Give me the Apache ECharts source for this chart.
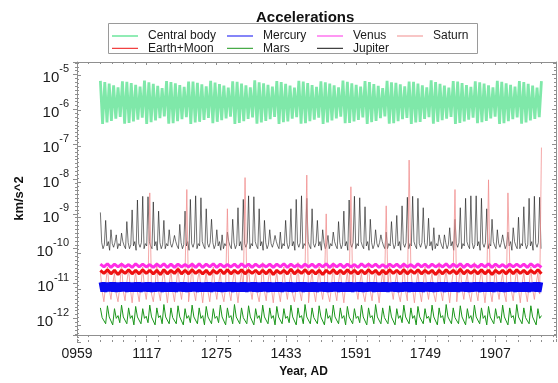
<!DOCTYPE html>
<html>
<head>
<meta charset="utf-8">
<script src="https://cdn.jsdelivr.net/npm/echarts@6/dist/echarts.min.js"></script>
<style>
  html, body { margin: 0; padding: 0; background: #fff; }
  #chart { width: 558px; height: 383px; }
</style>
</head>
<body>
<div id="chart"></div>
<script>
// Accelerations (km/s^2), sampled from year 1012 on a fixed step per series
const startYear = 1012
const xTicks = [959, 1117, 1275, 1433, 1591, 1749, 1907]

// step 5 years
const centralBody = [
  6.6e-6,3.8e-7,6.1e-6,4.2e-7,5.5e-6,4.7e-7,4.9e-6,5.4e-7,4.3e-6,6.1e-7,
  6.4e-6,3.9e-7,6.2e-6,4.1e-7,5.7e-6,4.5e-7,5.1e-6,5.1e-7,4.5e-6,5.8e-7,
  6.7e-6,3.8e-7,6.0e-6,4.3e-7,5.4e-6,4.8e-7,4.7e-6,5.6e-7,4.1e-6,6.3e-7,
  6.5e-6,3.9e-7,6.1e-6,4.0e-7,5.6e-6,4.6e-7,5.0e-6,5.2e-7,4.4e-6,6.0e-7,
  6.3e-6,3.8e-7,6.3e-6,4.2e-7,5.8e-6,4.4e-7,5.2e-6,5.0e-7,4.6e-6,5.7e-7,
  6.6e-6,4.0e-7,5.9e-6,4.4e-7,5.3e-6,4.9e-7,4.8e-6,5.5e-7,4.2e-6,6.2e-7,
  6.4e-6,3.8e-7,6.2e-6,4.1e-7,5.5e-6,4.6e-7,4.9e-6,5.3e-7,4.3e-6,5.9e-7,
  6.8e-6,3.9e-7,6.0e-6,4.2e-7,5.6e-6,4.7e-7,5.1e-6,5.2e-7,4.5e-6,6.1e-7,
  6.5e-6,3.8e-7,6.1e-6,4.3e-7,5.4e-6,4.5e-7,4.8e-6,5.4e-7,4.2e-6,6.0e-7,
  6.6e-6,3.9e-7,6.3e-6,4.0e-7,5.7e-6,4.6e-7,5.0e-6,5.1e-7,4.4e-6,5.8e-7,
  6.4e-6,3.8e-7,6.0e-6,4.2e-7,5.5e-6,4.8e-7,4.9e-6,5.5e-7,4.3e-6,6.2e-7,
  6.7e-6,4.0e-7,6.2e-6,4.1e-7,5.6e-6,4.5e-7,5.1e-6,5.0e-7,4.5e-6,5.9e-7,
  6.5e-6,3.8e-7,6.1e-6,4.3e-7,5.3e-6,4.7e-7,4.7e-6,5.6e-7,4.1e-6,6.3e-7,
  6.6e-6,3.9e-7,6.0e-6,4.0e-7,5.8e-6,4.6e-7,5.2e-6,5.2e-7,4.6e-6,5.7e-7,
  6.3e-6,3.8e-7,6.2e-6,4.2e-7,5.5e-6,4.4e-7,4.9e-6,5.3e-7,4.3e-6,6.0e-7,
  6.8e-6,3.9e-7,6.1e-6,4.4e-7,5.4e-6,4.9e-7,4.8e-6,5.4e-7,4.2e-6,6.1e-7,
  6.5e-6,3.8e-7,6.3e-6,4.1e-7,5.7e-6,4.5e-7,5.0e-6,5.1e-7,4.4e-6,5.8e-7,
  6.4e-6,4.0e-7,6.0e-6,4.3e-7,5.5e-6,4.7e-7,4.9e-6,5.5e-7,4.3e-6,6.2e-7,
  6.6e-6,3.8e-7,6.2e-6,4.0e-7,5.6e-6,4.6e-7,5.1e-6,5.2e-7,4.5e-6,5.9e-7,
  6.5e-6,3.9e-7,6.1e-6,4.2e-7,5.4e-6,4.8e-7,4.8e-6,5.3e-7,4.2e-6,6.0e-7,
  6.5e-6
]

// step 3 years, one Jupiter cycle = 4 samples (peak + 3 background)
const jupiter = [
  1.1e-9,1.5e-10,1.0e-10,1.3e-10, 6.5e-10,1.2e-10,1.6e-10,9e-11, 3.5e-10,1.4e-10,1.1e-10,1.5e-10, 2.5e-10,1.0e-10,1.4e-10,1.2e-10, 2.8e-10,1.6e-10,1.2e-10,1.0e-10,
  6e-10,1.5e-10,1.0e-10,1.3e-10, 1.3e-9,1.2e-10,1.6e-10,9e-11, 2.5e-9,1.4e-10,1.1e-10,1.5e-10, 3.2e-9,1.0e-10,1.4e-10,1.2e-10, 3.1e-9,1.6e-10,1.2e-10,1.0e-10,
  2.2e-9,1.2e-10,1.6e-10,9e-11, 1.2e-9,1.5e-10,1.0e-10,1.3e-10, 6.5e-10,1.0e-10,1.4e-10,1.2e-10, 3.5e-10,1.4e-10,1.1e-10,1.5e-10, 2.4e-10,1.6e-10,1.2e-10,1.0e-10,
  5e-10,1.5e-10,1.0e-10,1.3e-10, 1.2e-9,1.2e-10,1.6e-10,9e-11, 2.6e-9,1.4e-10,1.1e-10,1.5e-10, 3.3e-9,1.0e-10,1.4e-10,1.2e-10, 2.9e-9,1.6e-10,1.2e-10,1.0e-10,
  1.4e-9,1.4e-10,1.1e-10,1.5e-10, 7e-10,1.5e-10,1.0e-10,1.3e-10, 3.5e-10,1.2e-10,1.6e-10,9e-11, 2.5e-10,1.0e-10,1.4e-10,1.2e-10, 3e-10,1.6e-10,1.2e-10,1.0e-10,
  7e-10,1.5e-10,1.0e-10,1.3e-10, 1.5e-9,1.2e-10,1.6e-10,9e-11, 2.6e-9,1.4e-10,1.1e-10,1.5e-10, 3.3e-9,1.0e-10,1.4e-10,1.2e-10, 3.1e-9,1.6e-10,1.2e-10,1.0e-10,
  1.4e-9,1.2e-10,1.6e-10,9e-11, 6.5e-10,1.5e-10,1.0e-10,1.3e-10, 3.5e-10,1.4e-10,1.1e-10,1.5e-10, 2.4e-10,1.6e-10,1.2e-10,1.0e-10, 3e-10,1.0e-10,1.4e-10,1.2e-10,
  6.5e-10,1.5e-10,1.0e-10,1.3e-10, 1.4e-9,1.2e-10,1.6e-10,9e-11, 2.6e-9,1.4e-10,1.1e-10,1.5e-10, 3.3e-9,1.0e-10,1.4e-10,1.2e-10, 2.8e-9,1.6e-10,1.2e-10,1.0e-10,
  1.4e-9,1.4e-10,1.1e-10,1.5e-10, 6.5e-10,1.2e-10,1.6e-10,9e-11, 3.5e-10,1.5e-10,1.0e-10,1.3e-10, 2.4e-10,1.0e-10,1.4e-10,1.2e-10, 3e-10,1.6e-10,1.2e-10,1.0e-10,
  6e-10,1.5e-10,1.0e-10,1.3e-10, 1.2e-9,1.2e-10,1.6e-10,9e-11, 2.5e-9,1.4e-10,1.1e-10,1.5e-10, 3.2e-9,1.0e-10,1.4e-10,1.2e-10, 2.9e-9,1.6e-10,1.2e-10,1.0e-10,
  1.6e-9,1.2e-10,1.6e-10,9e-11, 7e-10,1.5e-10,1.0e-10,1.3e-10, 3.5e-10,1.4e-10,1.1e-10,1.5e-10, 2.5e-10,1.6e-10,1.2e-10,1.0e-10, 3e-10,1.0e-10,1.4e-10,1.2e-10,
  6e-10,1.5e-10,1.0e-10,1.3e-10, 9e-10,1.2e-10,1.6e-10,9e-11, 1.7e-9,1.4e-10,1.1e-10,1.5e-10, 3e-9,1.0e-10,1.4e-10,1.2e-10, 3.2e-9,1.6e-10,1.2e-10,1.0e-10,
  2.8e-9,1.4e-10,1.1e-10,1.5e-10, 1.5e-9,1.5e-10,1.0e-10,1.3e-10, 7.5e-10,1.2e-10,1.6e-10,9e-11, 4e-10,1.0e-10,1.4e-10,1.2e-10, 2.5e-10,1.6e-10,1.2e-10,1.0e-10,
  2.5e-10,1.5e-10,1.0e-10,1.3e-10, 4e-10,1.2e-10,1.6e-10,9e-11, 7e-10,1.4e-10,1.1e-10,1.5e-10, 1.5e-9,1.0e-10,1.4e-10,1.2e-10, 2.8e-9,1.6e-10,1.2e-10,1.0e-10,
  3.3e-9,1.5e-10,1.0e-10,1.3e-10, 3.3e-9,1.2e-10,1.6e-10,9e-11, 2.8e-9,1.4e-10,1.1e-10,1.5e-10, 1.4e-9,1.0e-10,1.4e-10,1.2e-10, 7e-10,1.6e-10,1.2e-10,1.0e-10,
  3.5e-10,1.4e-10,1.1e-10,1.5e-10, 2.5e-10,1.5e-10,1.0e-10,1.3e-10, 3e-10,1.2e-10,1.6e-10,9e-11, 4e-10,1.6e-10,1.2e-10,1.0e-10, 8e-10,1.0e-10,1.4e-10,1.2e-10,
  1.6e-9,1.5e-10,1.0e-10,1.3e-10, 2.8e-9,1.2e-10,1.6e-10,9e-11, 3.2e-9,1.4e-10,1.1e-10,1.5e-10, 3e-9,1.0e-10
]

// step 4 years
const saturn = [
  2.2e-11,6e-12,3e-12,9e-12,3e-11,7e-12,3.5e-12,1e-11,2e-11,5e-12,3e-12,8e-12,4e-11,6e-12,3.2e-12,1.1e-11,2.5e-11,7e-12,2.8e-12,9e-12,
  2.2e-11,6e-12,3e-12,9e-12,3e-11,7e-12,3.5e-12,1e-11,4e-9,5e-12,3e-12,8e-12,4e-11,6e-12,3.2e-12,1.1e-11,2.5e-11,7e-12,2.8e-12,9e-12,
  2.5e-11,6e-12,3e-12,9e-12,3e-11,7e-12,3.5e-12,1e-11,2e-11,5e-9,3e-12,8e-12,4e-11,6e-12,3.2e-12,1.1e-11,2.5e-11,7e-12,2.8e-12,9e-12,
  2.2e-11,6e-12,3e-12,9e-12,3e-11,7e-12,3.5e-12,1e-11,2e-11,5e-12,3e-12,8e-12,1.4e-9,6e-12,3.2e-12,1.1e-11,2.5e-11,7e-12,2.8e-12,9e-12,
  2.2e-11,6e-12,1.1e-8,9e-12,3e-11,7e-12,3.5e-12,1e-11,2e-11,5e-12,3e-12,8e-12,4e-11,6e-12,3.2e-12,1.1e-11,2.5e-11,7e-12,2.8e-12,9e-12,
  2.2e-11,6e-12,3e-12,9e-12,3e-11,7e-12,3.5e-12,1e-11,2e-11,5e-12,3e-12,8e-12,4e-11,6e-12,3.2e-12,1.1e-11,2.5e-11,1.3e-8,2.8e-12,9e-12,
  2.2e-11,6e-12,3e-12,9e-12,3e-11,7e-12,3.5e-12,1e-11,1e-9,5e-12,3e-12,8e-12,4e-11,6e-12,3.2e-12,1.1e-11,2.5e-11,7e-12,2.8e-12,9e-12,
  2.2e-11,6e-12,6e-9,9e-12,3e-11,7e-12,3.5e-12,1e-11,2e-11,5e-12,3e-12,8e-12,4e-11,6e-12,3.2e-12,1.1e-11,2.5e-11,7e-12,2.8e-12,9e-12,
  2.2e-11,6e-12,1.7e-9,9e-12,3e-11,7e-12,3.5e-12,1e-11,2e-11,5e-12,3e-12,8e-12,4e-11,6e-12,3.2e-12,3.5e-8,2.5e-11,7e-12,2.8e-12,9e-12,
  2.2e-11,6e-12,3e-12,9e-12,3e-11,7e-12,3.5e-12,1e-11,2e-11,5e-12,3e-12,8e-12,4e-11,6e-12,3.2e-12,1.1e-11,2.5e-11,7e-12,2.8e-12,9e-12,
  2.2e-11,5e-9,3e-12,9e-12,3e-11,7e-12,3.5e-12,1e-11,2e-11,5e-12,3e-12,8e-12,4e-11,6e-12,3.2e-12,1.1e-11,2.5e-11,7e-12,2.8e-12,9e-12,
  9.5e-9,6e-12,3e-12,9e-12,3e-11,7e-12,3.5e-12,1e-11,2e-11,5e-12,3e-12,4e-9,4e-11,6e-12,3.2e-12,1.1e-11,2.5e-11,7e-12,2.8e-12,9e-12,
  2.2e-11,6e-12,3e-12,9e-12,3e-11,7e-12,3.5e-12,1e-11,2e-11,5e-12,8e-8
]

// step 8 years
const venus = [
  3.6e-11,3.0e-11,3.7e-11,2.9e-11,3.6e-11,3.0e-11,3.6e-11,3.0e-11,3.5e-11,2.9e-11,
  3.7e-11,3.0e-11,3.6e-11,3.0e-11,3.5e-11,2.9e-11,3.6e-11,3.0e-11,3.7e-11,2.9e-11,
  3.6e-11,2.9e-11,3.6e-11,3.0e-11,3.5e-11,3.0e-11,3.6e-11,2.9e-11,3.7e-11,2.9e-11,
  3.6e-11,3.0e-11,3.7e-11,2.9e-11,3.6e-11,3.0e-11,3.5e-11,3.0e-11,3.6e-11,2.9e-11,
  3.7e-11,3.0e-11,3.6e-11,2.9e-11,3.6e-11,3.0e-11,3.5e-11,3.0e-11,3.6e-11,2.9e-11,
  3.6e-11,3.0e-11,3.7e-11,2.9e-11,3.6e-11,3.0e-11,3.5e-11,2.9e-11,3.6e-11,3.0e-11,
  3.6e-11,2.9e-11,3.6e-11,3.0e-11,3.7e-11,2.9e-11,3.6e-11,3.0e-11,3.6e-11,2.9e-11,
  3.6e-11,3.0e-11,3.5e-11,2.9e-11,3.7e-11,3.0e-11,3.6e-11,3.0e-11,3.6e-11,2.9e-11,
  3.5e-11,2.9e-11,3.6e-11,3.0e-11,3.6e-11,2.9e-11,3.6e-11,3.0e-11,3.5e-11,2.9e-11,
  3.7e-11,3.0e-11,3.6e-11,2.9e-11,3.6e-11,3.0e-11,3.5e-11,3.0e-11,3.7e-11,2.9e-11,
  3.6e-11,3.0e-11,3.7e-11,2.9e-11,3.6e-11,3.0e-11,3.5e-11,2.9e-11,3.6e-11,3.0e-11,
  3.7e-11,2.9e-11,3.6e-11,3.0e-11,3.5e-11,2.9e-11,3.6e-11,3.0e-11,3.6e-11,3.0e-11,
  3.6e-11,2.9e-11,3.7e-11,3.0e-11,3.5e-11,2.9e-11
]

// step 8 years
const earthMoon = [
  2.4e-11,1.95e-11,2.5e-11,1.9e-11,2.4e-11,1.8e-11,2.4e-11,1.95e-11,2.5e-11,1.9e-11,
  2.4e-11,1.9e-11,2.5e-11,1.95e-11,2.4e-11,1.9e-11,2.4e-11,1.8e-11,2.5e-11,1.9e-11,
  2.4e-11,1.95e-11,2.6e-11,1.9e-11,2.4e-11,1.9e-11,2.5e-11,1.95e-11,2.4e-11,1.9e-11,
  2.4e-11,1.8e-11,2.4e-11,1.95e-11,2.5e-11,1.9e-11,2.5e-11,1.9e-11,2.4e-11,1.95e-11,
  2.5e-11,1.9e-11,2.4e-11,1.95e-11,2.4e-11,1.9e-11,2.4e-11,1.9e-11,2.5e-11,1.8e-11,
  2.4e-11,1.95e-11,2.4e-11,1.9e-11,2.6e-11,1.9e-11,2.4e-11,1.95e-11,2.5e-11,1.9e-11,
  2.4e-11,1.9e-11,2.4e-11,1.8e-11,2.4e-11,1.95e-11,2.5e-11,1.9e-11,2.4e-11,1.9e-11,
  2.5e-11,1.95e-11,2.4e-11,1.9e-11,2.4e-11,1.9e-11,2.5e-11,1.95e-11,2.4e-11,1.8e-11,
  2.4e-11,1.9e-11,2.5e-11,1.95e-11,2.4e-11,1.9e-11,2.5e-11,1.9e-11,2.4e-11,1.95e-11,
  2.5e-11,1.9e-11,2.4e-11,1.95e-11,2.4e-11,1.8e-11,2.4e-11,1.9e-11,2.5e-11,1.95e-11,
  2.4e-11,1.9e-11,2.6e-11,1.9e-11,2.4e-11,1.95e-11,2.4e-11,1.9e-11,2.5e-11,1.9e-11,
  2.4e-11,1.8e-11,2.4e-11,1.95e-11,2.4e-11,1.9e-11,2.5e-11,1.9e-11,2.5e-11,1.95e-11,
  2.4e-11,1.9e-11,2.4e-11,1.95e-11,2.5e-11,1.9e-11
]

// step 4 years
const mercury = [
  1.08e-11,5.8e-12,1.09e-11,5.7e-12,1.07e-11,5.9e-12,1.08e-11,5.8e-12,1.09e-11,5.7e-12,
  1.07e-11,5.8e-12,1.08e-11,5.9e-12,1.09e-11,5.7e-12,1.08e-11,5.8e-12,1.07e-11,5.8e-12,
  1.08e-11,5.8e-12,1.09e-11,5.7e-12,1.07e-11,5.9e-12,1.08e-11,5.8e-12,1.09e-11,5.7e-12,
  1.07e-11,5.8e-12,1.08e-11,5.9e-12,1.09e-11,5.7e-12,1.08e-11,5.8e-12,1.07e-11,5.8e-12,
  1.08e-11,5.8e-12,1.09e-11,5.7e-12,1.07e-11,5.9e-12,1.08e-11,5.8e-12,1.09e-11,5.7e-12,
  1.07e-11,5.8e-12,1.08e-11,5.9e-12,1.09e-11,5.7e-12,1.08e-11,5.8e-12,1.07e-11,5.8e-12,
  1.08e-11,5.8e-12,1.09e-11,5.7e-12,1.07e-11,5.9e-12,1.08e-11,5.8e-12,1.09e-11,5.7e-12,
  1.07e-11,5.8e-12,1.08e-11,5.9e-12,1.09e-11,5.7e-12,1.08e-11,5.8e-12,1.07e-11,5.8e-12,
  1.08e-11,5.8e-12,1.09e-11,5.7e-12,1.07e-11,5.9e-12,1.08e-11,5.8e-12,1.09e-11,5.7e-12,
  1.07e-11,5.8e-12,1.08e-11,5.9e-12,1.09e-11,5.7e-12,1.08e-11,5.8e-12,1.07e-11,5.8e-12,
  1.08e-11,5.8e-12,1.09e-11,5.7e-12,1.07e-11,5.9e-12,1.08e-11,5.8e-12,1.09e-11,5.7e-12,
  1.07e-11,5.8e-12,1.08e-11,5.9e-12,1.09e-11,5.7e-12,1.08e-11,5.8e-12,1.07e-11,5.8e-12,
  1.08e-11,5.8e-12,1.09e-11,5.7e-12,1.07e-11,5.9e-12,1.08e-11,5.8e-12,1.09e-11,5.7e-12,
  1.07e-11,5.8e-12,1.08e-11,5.9e-12,1.09e-11,5.7e-12,1.08e-11,5.8e-12,1.07e-11,5.8e-12,
  1.08e-11,5.8e-12,1.09e-11,5.7e-12,1.07e-11,5.9e-12,1.08e-11,5.8e-12,1.09e-11,5.7e-12,
  1.07e-11,5.8e-12,1.08e-11,5.9e-12,1.09e-11,5.7e-12,1.08e-11,5.8e-12,1.07e-11,5.8e-12,
  1.08e-11,5.8e-12,1.09e-11,5.7e-12,1.07e-11,5.9e-12,1.08e-11,5.8e-12,1.09e-11,5.7e-12,
  1.07e-11,5.8e-12,1.08e-11,5.9e-12,1.09e-11,5.7e-12,1.08e-11,5.8e-12,1.07e-11,5.8e-12,
  1.08e-11,5.8e-12,1.09e-11,5.7e-12,1.07e-11,5.9e-12,1.08e-11,5.8e-12,1.09e-11,5.7e-12,
  1.07e-11,5.8e-12,1.08e-11,5.9e-12,1.09e-11,5.7e-12,1.08e-11,5.8e-12,1.07e-11,5.8e-12,
  1.08e-11,5.8e-12,1.09e-11,5.7e-12,1.07e-11,5.9e-12,1.08e-11,5.8e-12,1.09e-11,5.7e-12,
  1.07e-11,5.8e-12,1.08e-11,5.9e-12,1.09e-11,5.7e-12,1.08e-11,5.8e-12,1.07e-11,5.8e-12,
  1.08e-11,5.8e-12,1.09e-11,5.7e-12,1.07e-11,5.9e-12,1.08e-11,5.8e-12,1.09e-11,5.7e-12,
  1.07e-11,5.8e-12,1.08e-11,5.9e-12,1.09e-11,5.7e-12,1.08e-11,5.8e-12,1.07e-11,5.8e-12,
  1.08e-11,5.8e-12,1.09e-11,5.7e-12,1.07e-11,5.9e-12,1.08e-11,5.8e-12,1.09e-11,5.7e-12,
  1.08e-11
]

// step 4 years
const mars = [
  2.0e-12,1.05e-12,1.15e-12,7e-13,2.3e-12,1.1e-12,1.2e-12,6.5e-13,1.9e-12,1.0e-12,1.2e-12,7.5e-13,2.4e-12,1.1e-12,1.15e-12,7e-13,2.0e-12,1.0e-12,1.2e-12,6.5e-13,
  2.2e-12,1.1e-12,1.2e-12,7e-13,1.9e-12,1.0e-12,1.15e-12,7.5e-13,2.4e-12,1.1e-12,1.2e-12,6.5e-13,2.0e-12,1.05e-12,1.2e-12,7e-13,2.5e-12,1.1e-12,1.15e-12,7e-13,
  2.0e-12,1.05e-12,1.15e-12,7e-13,2.3e-12,1.1e-12,1.2e-12,6.5e-13,1.9e-12,1.0e-12,1.2e-12,7.5e-13,2.4e-12,1.1e-12,1.15e-12,7e-13,2.0e-12,1.0e-12,1.2e-12,6.5e-13,
  2.2e-12,1.1e-12,1.2e-12,7e-13,1.9e-12,1.0e-12,1.15e-12,7.5e-13,2.4e-12,1.1e-12,1.2e-12,6.5e-13,2.0e-12,1.05e-12,1.2e-12,7e-13,2.5e-12,1.1e-12,1.15e-12,7e-13,
  2.0e-12,1.05e-12,1.15e-12,7e-13,2.3e-12,1.1e-12,1.2e-12,6.5e-13,1.9e-12,1.0e-12,1.2e-12,7.5e-13,2.4e-12,1.1e-12,1.15e-12,7e-13,2.0e-12,1.0e-12,1.2e-12,6.5e-13,
  2.2e-12,1.1e-12,1.2e-12,7e-13,1.9e-12,1.0e-12,1.15e-12,7.5e-13,2.4e-12,1.1e-12,1.2e-12,6.5e-13,2.0e-12,1.05e-12,1.2e-12,7e-13,2.5e-12,1.1e-12,1.15e-12,7e-13,
  2.0e-12,1.05e-12,1.15e-12,7e-13,2.3e-12,1.1e-12,1.2e-12,6.5e-13,1.9e-12,1.0e-12,1.2e-12,7.5e-13,2.4e-12,1.1e-12,1.15e-12,7e-13,2.0e-12,1.0e-12,1.2e-12,6.5e-13,
  2.2e-12,1.1e-12,1.2e-12,7e-13,1.9e-12,1.0e-12,1.15e-12,7.5e-13,2.4e-12,1.1e-12,1.2e-12,6.5e-13,2.0e-12,1.05e-12,1.2e-12,7e-13,2.5e-12,1.1e-12,1.15e-12,7e-13,
  2.0e-12,1.05e-12,1.15e-12,7e-13,2.3e-12,1.1e-12,1.2e-12,6.5e-13,1.9e-12,1.0e-12,1.2e-12,7.5e-13,2.4e-12,1.1e-12,1.15e-12,7e-13,2.0e-12,1.0e-12,1.2e-12,6.5e-13,
  2.2e-12,1.1e-12,1.2e-12,7e-13,1.9e-12,1.0e-12,1.15e-12,7.5e-13,2.4e-12,1.1e-12,1.2e-12,6.5e-13,2.0e-12,1.05e-12,1.2e-12,7e-13,2.5e-12,1.1e-12,1.15e-12,7e-13,
  2.0e-12,1.05e-12,1.15e-12,7e-13,2.3e-12,1.1e-12,1.2e-12,6.5e-13,1.9e-12,1.0e-12,1.2e-12,7.5e-13,2.4e-12,1.1e-12,1.15e-12,7e-13,2.0e-12,1.0e-12,1.2e-12,6.5e-13,
  2.2e-12,1.1e-12,1.2e-12,7e-13,1.9e-12,1.0e-12,1.15e-12,7.5e-13,2.4e-12,1.1e-12,1.2e-12,6.5e-13,2.0e-12,1.05e-12,1.2e-12,7e-13,2.5e-12,1.1e-12,1.15e-12,7e-13,
  2.0e-12,1.05e-12,1.15e-12,7e-13,2.3e-12,1.1e-12,1.2e-12,6.5e-13,1.9e-12,1.0e-12,1.2e-12
]

const seriesDefs = [
  { name: 'Central body', data: centralBody, step: 5, color: '#22d86a', width: 2.8, opacity: 0.58 },
  { name: 'Jupiter', data: jupiter, step: 3, color: '#111111', width: 0.7, opacity: 0.85 },
  { name: 'Saturn', data: saturn, step: 4, color: '#f08c8c', width: 0.9, opacity: 0.85 },
  { name: 'Venus', data: venus, step: 8, color: '#ff2ee6', width: 3, opacity: 1 },
  { name: 'Earth+Moon', data: earthMoon, step: 8, color: '#ee1111', width: 3, opacity: 1 },
  { name: 'Mercury', data: mercury, step: 4, color: '#0a0af0', width: 3.5, opacity: 1 },
  { name: 'Mars', data: mars, step: 4, color: '#1a961a', width: 1, opacity: 1 }
]

const legendCols = [['Central body', 'Earth+Moon'], ['Mercury', 'Mars'], ['Venus', 'Jupiter'], ['Saturn']]
const legendLefts = [112, 227, 317, 397]

const font = 'Liberation Sans, Arial, sans-serif'
const axisGray = '#8f8f8f'
const xMin = 959, xMax = 2045, yMin = -12.48, yMax = -4.64

const chart = echarts.init(document.getElementById('chart'))

const xBase = { type: 'value', min: xMin, max: xMax, interval: 158, splitLine: { show: false } }
const yBase = { type: 'value', min: yMin, max: yMax, splitNumber: 8, splitLine: { show: false } }

chart.setOption({
  animation: false,
  title: {
    text: 'Accelerations', left: 251, top: 5,
    textStyle: { fontFamily: font, fontSize: 15, fontWeight: 'bold', color: '#111' }
  },
  graphic: [{
    type: 'rect', shape: { x: 108.5, y: 23.5, width: 369, height: 30 },
    style: { fill: 'none', stroke: '#9a9a9a', lineWidth: 1 }, z: -1
  }],
  legend: legendCols.map((d, i) => ({
    orient: 'vertical', left: legendLefts[i], top: 30, data: d,
    icon: 'rect', itemWidth: 26, itemHeight: 1, itemGap: 0.3, padding: 0,
    selectedMode: false,
    textStyle: { fontFamily: font, fontSize: 12, lineHeight: 12, color: '#1a1a1a', padding: [0, 0, 0, 5] }
  })),
  grid: [
    { left: 77, right: 2, top: 62, bottom: 41 },
    { left: 77, right: 2, top: 62, bottom: 41 }
  ],
  xAxis: [
    Object.assign({}, xBase, {
      gridIndex: 0, position: 'bottom',
      name: 'Year, AD', nameLocation: 'middle', nameGap: 21,
      nameTextStyle: { fontFamily: font, fontSize: 12, fontWeight: 'bold', color: '#111', padding: [0, 26, 0, 0] },
      axisLine: { lineStyle: { color: axisGray } },
      axisTick: { inside: false, length: 3, lineStyle: { color: axisGray } },
      minorTick: { show: true, splitNumber: 6, length: 2, lineStyle: { color: axisGray } },
      axisLabel: {
        fontFamily: font, fontSize: 14, color: '#1a1a1a', margin: 12, showMaxLabel: false,
        formatter: v => String(v).padStart(4, '0')
      }
    }),
    Object.assign({}, xBase, {
      gridIndex: 0, position: 'top',
      axisLine: { lineStyle: { color: axisGray } },
      axisTick: { inside: true, length: 3, lineStyle: { color: axisGray } },
      minorTick: { show: true, splitNumber: 6, length: 2, lineStyle: { color: axisGray } },
      axisLabel: { show: false }
    }),
    Object.assign({}, xBase, {
      gridIndex: 1, position: 'bottom',
      axisLine: { show: false },
      axisTick: { inside: true, length: 3, lineStyle: { color: axisGray } },
      minorTick: { show: true, splitNumber: 6, length: 2, lineStyle: { color: axisGray } },
      axisLabel: { show: false }
    })
  ],
  yAxis: [
    Object.assign({}, yBase, {
      gridIndex: 0, position: 'left',
      name: 'km/s^2', nameLocation: 'middle', nameGap: 50,
      nameTextStyle: { fontFamily: font, fontSize: 13, fontWeight: 'bold', color: '#111' },
      axisLine: { show: true, lineStyle: { color: axisGray } },
      axisTick: { show: true, inside: false, length: 4, lineStyle: { color: axisGray } },
      minorTick: { show: true, splitNumber: 9, length: 2, lineStyle: { color: axisGray } },
      axisLabel: {
        margin: 8, showMinLabel: false, showMaxLabel: false,
        formatter: v => '{b|10}{s|' + Math.round(v) + '}',
        rich: {
          b: { fontFamily: font, fontSize: 15, color: '#1a1a1a', lineHeight: 22, verticalAlign: 'bottom' },
          s: { fontFamily: font, fontSize: 11, color: '#1a1a1a', lineHeight: 12, verticalAlign: 'top' }
        }
      }
    }),
    Object.assign({}, yBase, {
      gridIndex: 0, position: 'right',
      axisLine: { show: true, lineStyle: { color: axisGray } },
      axisTick: { show: true, inside: true, length: 4, lineStyle: { color: axisGray } },
      minorTick: { show: true, splitNumber: 9, length: 2, lineStyle: { color: axisGray } },
      axisLabel: { show: false }
    }),
    Object.assign({}, yBase, {
      gridIndex: 1, position: 'left',
      axisLine: { show: false },
      axisTick: { show: true, inside: true, length: 4, lineStyle: { color: axisGray } },
      minorTick: { show: true, splitNumber: 9, length: 2, lineStyle: { color: axisGray } },
      axisLabel: { show: false }
    })
  ],
  series: seriesDefs.map(s => ({
    name: s.name,
    type: 'line',
    xAxisIndex: 0,
    yAxisIndex: 0,
    data: s.data.map((v, i) => [startYear + i * s.step, Math.log10(v)]),
    showSymbol: false,
    symbol: 'none',
    clip: true,
    color: s.color,
    itemStyle: { color: s.color },
    lineStyle: { color: s.color, width: s.width, opacity: s.opacity, join: 'bevel' }
  }))
})
</script>
</body>
</html>
